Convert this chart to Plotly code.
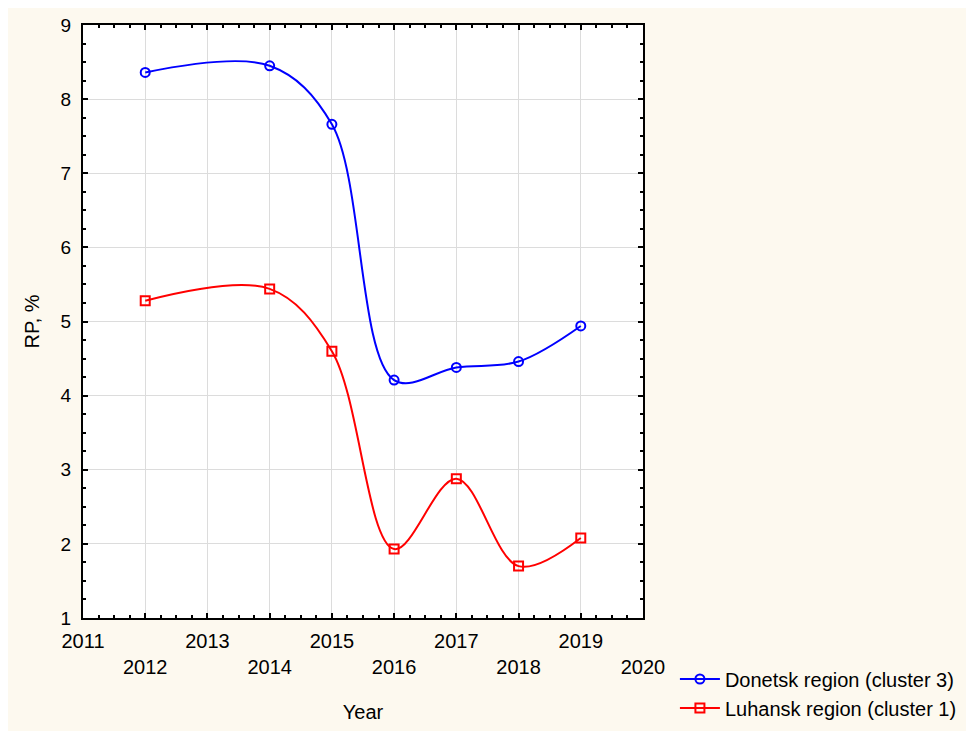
import plotly.graph_objects as go

years = [2012, 2014, 2015, 2016, 2017, 2018, 2019]
donetsk = [8.36, 8.45, 7.66, 4.21, 4.38, 4.46, 4.94]
luhansk = [5.28, 5.44, 4.60, 1.93, 2.88, 1.70, 2.08]
tick_years = list(range(2011, 2021))
tick_text = [str(y) if (y % 2 == 1) else "<br>" + str(y) for y in tick_years]

FONT = "Liberation Sans, Arial, sans-serif"

fig = go.Figure()
fig.add_trace(go.Scatter(
    x=years, y=donetsk, mode="lines+markers", name="Donetsk region (cluster 3)",
    line=dict(color="#0000FF", width=2, shape="spline", smoothing=1.0),
    marker=dict(symbol="circle-open", size=9, color="#0000FF", line=dict(width=2)),
))
fig.add_trace(go.Scatter(
    x=years, y=luhansk, mode="lines+markers", name="Luhansk region (cluster 1)",
    line=dict(color="#FF0000", width=2, shape="spline", smoothing=1.0),
    marker=dict(symbol="square-open", size=9, color="#FF0000", line=dict(width=2)),
))

axis_common = dict(
    showline=True, linecolor="black", linewidth=2, mirror="allticks",
    ticks="inside", ticklen=5, tickwidth=1.5, tickcolor="black",
    showgrid=True, gridcolor="#dcdcdc", gridwidth=1, zeroline=False,
    automargin=False,
)

fig.update_xaxes(
    range=[2011, 2020], tickmode="array", tickvals=tick_years, ticktext=tick_text,
    tickfont=dict(family=FONT, size=20, color="black"),
    title=dict(text="Year", font=dict(family=FONT, size=20, color="black"), standoff=28),
    minor=dict(ticks="inside", ticklen=3, tickcolor="black", dtick=0.25, showgrid=False),
    ticklabelstandoff=4,
    **axis_common,
)
fig.update_yaxes(
    range=[1, 9], dtick=1,
    tickfont=dict(family=FONT, size=19, color="black"),
    title=dict(text="RP, %", font=dict(family=FONT, size=20, color="black"), standoff=16),
    minor=dict(ticks="inside", ticklen=3, tickcolor="black", dtick=0.25, showgrid=False),
    ticklabelstandoff=6,
    **axis_common,
)

fig.update_layout(
    width=974, height=731,
    margin=dict(l=75, r=339, t=17, b=119),
    paper_bgcolor="#FDF9EF", plot_bgcolor="white",
    font=dict(family=FONT, size=20, color="black"),
    legend=dict(x=1.057, y=-0.07, xanchor="left", yanchor="top",
                bgcolor="rgba(0,0,0,0)", font=dict(family=FONT, size=20),
                tracegroupgap=0, itemwidth=40),
    showlegend=True,
)

fig.write_html("out.html")
